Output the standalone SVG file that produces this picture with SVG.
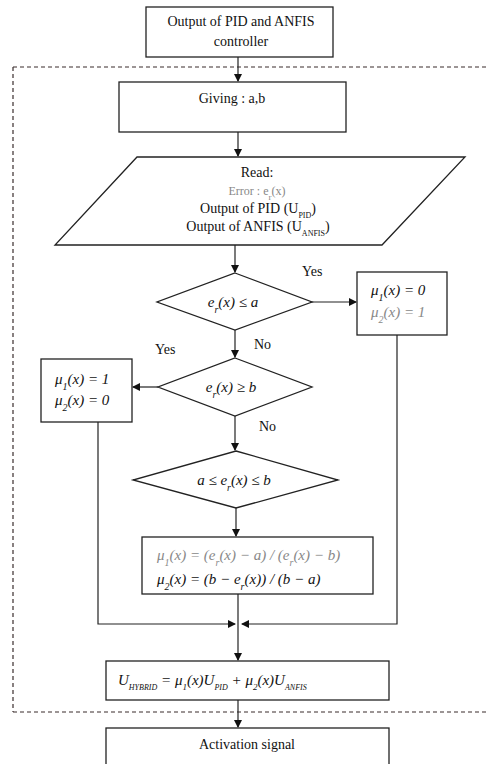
<svg xmlns="http://www.w3.org/2000/svg" width="486" height="764" viewBox="0 0 486 764">
<style>
.box{fill:#fff;stroke:#222;stroke-width:1.3}
.ln{fill:none;stroke:#222;stroke-width:1.2}
.dash{fill:none;stroke:#3a2d2d;stroke-width:1.2;stroke-dasharray:4 3}
.t{font-family:"Liberation Serif","Times New Roman",serif;font-size:14px;fill:#111}
.m{font-family:"Liberation Serif","Times New Roman",serif;font-size:15px;font-style:italic;fill:#111}
.faint{fill:#888}
.c{text-anchor:middle}
</style>
<defs>
<marker id="ah" markerWidth="8" markerHeight="8" refX="7" refY="4" orient="auto" markerUnits="userSpaceOnUse">
<path d="M0,0 L8,4 L0,8 Z" fill="#111"/>
</marker>
</defs>
<rect width="486" height="764" fill="#fff"/>
<g id="frame">
<path class="dash" d="M13,67 H486 M13,67 V712 M13,712 H486"/>
</g>
<g id="connectors">
<path class="ln" d="M238,57 V81" marker-end="url(#ah)"/>
<path class="ln" d="M238,132 V156" marker-end="url(#ah)"/>
<path class="ln" d="M235,245 V272" marker-end="url(#ah)"/>
<path class="ln" d="M311,302 H356" marker-end="url(#ah)"/>
<path class="ln" d="M235,330 V357" marker-end="url(#ah)"/>
<path class="ln" d="M158,387 H133" marker-end="url(#ah)"/>
<path class="ln" d="M235,416 V450" marker-end="url(#ah)"/>
<path class="ln" d="M236,508 V536" marker-end="url(#ah)"/>
<path class="ln" d="M238,594 V660" marker-end="url(#ah)"/>
<path class="ln" d="M98,422 V624 H235" marker-end="url(#ah)"/>
<path class="ln" d="M397,335 V624 H242" marker-end="url(#ah)"/>
<path class="ln" d="M238,700 V727" marker-end="url(#ah)"/>
<text class="t" x="302" y="276">Yes</text>
<text class="t" x="254" y="349">No</text>
<text class="t" x="155" y="354">Yes</text>
<text class="t" x="259" y="431">No</text>
</g>
<g id="start">
<rect class="box" x="146" y="7" width="187" height="50"/>
<text class="t c" x="241" y="26">Output of PID and ANFIS</text>
<text class="t c" x="241" y="46">controller</text>
</g>
<g id="giving">
<rect class="box" x="119" y="82" width="227" height="50"/>
<text class="t c" x="232" y="103">Giving :  a,b</text>
</g>
<g id="read">
<path class="box" d="M137,157 H465 L382,245 H55 Z"/>
<text class="t c" x="257" y="177">Read:</text>
<text class="t c faint" x="257" y="195" style="font-size:12px">Error : e<tspan baseline-shift="sub" font-size="9">r</tspan>(x)</text>
<text class="t c" x="258" y="213">Output of PID (U<tspan baseline-shift="sub" font-size="8">PID</tspan>)</text>
<text class="t c" x="258" y="231">Output of ANFIS (U<tspan baseline-shift="sub" font-size="8">ANFIS</tspan>)</text>
</g>
<g id="dec1">
<path class="box" d="M235,273 L312,302 L235,330 L157,302 Z"/>
<text class="m c" x="233" y="307">e<tspan baseline-shift="sub" font-size="10">r</tspan>(x) ≤ a</text>
</g>
<g id="mu-right">
<rect class="box" x="357" y="272" width="90" height="63"/>
<text class="m" x="371" y="295">μ<tspan baseline-shift="sub" font-size="10">1</tspan><tspan baseline-shift="baseline">(x) = 0</tspan></text>
<text class="m faint" x="371" y="317">μ<tspan baseline-shift="sub" font-size="10">2</tspan><tspan baseline-shift="baseline">(x) = 1</tspan></text>
</g>
<g id="dec2">
<path class="box" d="M235,358 L312,387 L235,416 L158,387 Z"/>
<text class="m c" x="231" y="392">e<tspan baseline-shift="sub" font-size="10">r</tspan>(x) ≥ b</text>
</g>
<g id="mu-left">
<rect class="box" x="41" y="359" width="91" height="63"/>
<text class="m" x="55" y="384">μ<tspan baseline-shift="sub" font-size="10">1</tspan><tspan baseline-shift="baseline">(x) = 1</tspan></text>
<text class="m" x="55" y="405">μ<tspan baseline-shift="sub" font-size="10">2</tspan><tspan baseline-shift="baseline">(x) = 0</tspan></text>
</g>
<g id="dec3">
<path class="box" d="M236,451 L338,480 L236,508 L133,480 Z"/>
<text class="m c" x="234" y="485">a ≤ e<tspan baseline-shift="sub" font-size="10">r</tspan><tspan baseline-shift="baseline">(x) ≤ b</tspan></text>
</g>
<g id="mu-calc">
<rect class="box" x="142" y="537" width="231" height="57"/>
<text class="m faint" x="157" y="560">μ<tspan baseline-shift="sub" font-size="10">1</tspan><tspan baseline-shift="baseline">(x) = (e</tspan><tspan baseline-shift="sub" font-size="10">r</tspan><tspan baseline-shift="baseline">(x) − a) / (e</tspan><tspan baseline-shift="sub" font-size="10">r</tspan><tspan baseline-shift="baseline">(x) − b)</tspan></text>
<text class="m" x="157" y="584">μ<tspan baseline-shift="sub" font-size="10">2</tspan><tspan baseline-shift="baseline">(x) = (b − e</tspan><tspan baseline-shift="sub" font-size="10">r</tspan><tspan baseline-shift="baseline">(x)) / (b − a)</tspan></text>
</g>
<g id="hybrid">
<rect class="box" x="106" y="661" width="283" height="39"/>
<text class="m" x="118" y="685">U<tspan baseline-shift="sub" font-size="8">HYBRID</tspan><tspan baseline-shift="baseline"> = μ</tspan><tspan baseline-shift="sub" font-size="9">1</tspan><tspan baseline-shift="baseline">(x)U</tspan><tspan baseline-shift="sub" font-size="8">PID</tspan><tspan baseline-shift="baseline"> + μ</tspan><tspan baseline-shift="sub" font-size="9">2</tspan><tspan baseline-shift="baseline">(x)U</tspan><tspan baseline-shift="sub" font-size="8">ANFIS</tspan></text>
</g>
<g id="activation">
<rect class="box" x="106" y="728" width="283" height="50"/>
<text class="t c" x="247" y="749">Activation signal</text>
</g>
</svg>
